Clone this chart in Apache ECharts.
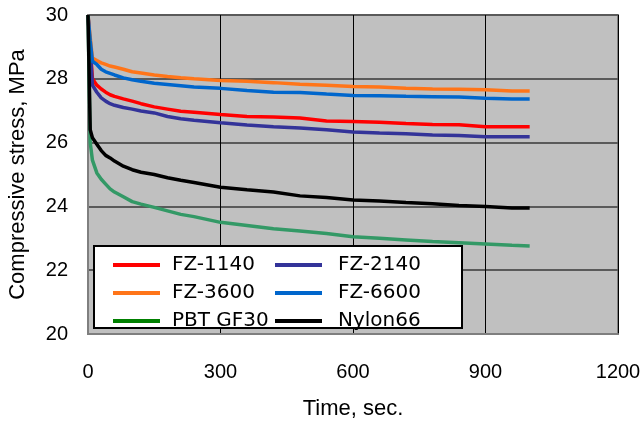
<!DOCTYPE html>
<html><head><meta charset="utf-8">
<script src="https://cdn.jsdelivr.net/npm/echarts@6/dist/echarts.min.js"></script>
<style>html,body{margin:0;padding:0;background:#fff}#c{width:640px;height:421px}</style>
</head><body><div id="c"></div>
<script>
var time = [0, 5, 10, 20, 30, 40, 50, 60, 80, 100, 120, 150, 180, 210, 240, 300, 360, 420, 480, 540, 600, 660, 720, 780, 840, 900, 960, 1000];
var fz1140 = [30, 29.0, 28.0, 27.8, 27.68, 27.58, 27.5, 27.45, 27.37, 27.3, 27.22, 27.12, 27.05, 26.98, 26.95, 26.88, 26.82, 26.8, 26.77, 26.68, 26.66, 26.64, 26.6, 26.57, 26.56, 26.5, 26.5, 26.5];
var fz2140 = [30, 28.9, 27.8, 27.58, 27.4, 27.3, 27.22, 27.17, 27.1, 27.05, 26.99, 26.93, 26.82, 26.75, 26.7, 26.62, 26.55, 26.5, 26.46, 26.4, 26.33, 26.3, 26.28, 26.24, 26.22, 26.18, 26.18, 26.18];
var fz3600 = [30, 29.3, 28.65, 28.57, 28.5, 28.45, 28.4, 28.37, 28.3, 28.22, 28.18, 28.12, 28.07, 28.03, 28.0, 27.95, 27.92, 27.88, 27.83, 27.8, 27.76, 27.74, 27.7, 27.68, 27.67, 27.66, 27.62, 27.62];
var fz6600 = [30, 29.2, 28.55, 28.45, 28.3, 28.22, 28.17, 28.12, 28.03, 27.97, 27.92, 27.86, 27.82, 27.78, 27.74, 27.7, 27.63, 27.58, 27.57, 27.52, 27.48, 27.47, 27.45, 27.44, 27.43, 27.39, 27.37, 27.37];
var pbtgf30 = [30, 26.0, 25.45, 25.05, 24.85, 24.7, 24.55, 24.45, 24.3, 24.15, 24.07, 23.97, 23.86, 23.75, 23.68, 23.5, 23.4, 23.3, 23.23, 23.15, 23.05, 23.0, 22.95, 22.9, 22.86, 22.82, 22.78, 22.76];
var nylon66 = [30, 26.4, 26.15, 25.95, 25.75, 25.6, 25.52, 25.42, 25.26, 25.15, 25.07, 25.0, 24.9, 24.82, 24.75, 24.6, 24.52, 24.45, 24.33, 24.28, 24.2, 24.17, 24.12, 24.08, 24.03, 24.0, 23.95, 23.95];
var xTicks = [0, 300, 600, 900, 1200];
var yTicks = [20, 22, 24, 26, 28, 30];

var seriesDefs = [
  {name: 'FZ-1140', data: fz1140, color: '#ff0000'},
  {name: 'FZ-2140', data: fz2140, color: '#333399'},
  {name: 'FZ-3600', data: fz3600, color: '#ff7519'},
  {name: 'FZ-6600', data: fz6600, color: '#0066cc'},
  {name: 'PBT GF30', data: pbtgf30, color: '#339966'},
  {name: 'Nylon66', data: nylon66, color: '#000000'}
];
function pairs(v){ return time.map(function(t,i){ return [t, v[i]]; }); }

var chart = echarts.init(document.getElementById('c'), null, {renderer: 'canvas'});
function legendCommon(padLeft){
  return {
    orient: 'vertical', icon: 'rect', itemWidth: 47, itemHeight: 4, itemGap: 8, z: 200,
    textStyle: {fontFamily: 'DejaVu Sans', fontSize: 20, color: '#000', lineHeight: 20, padding: [0,0,0,padLeft]},
    selectedMode: false
  };
}
chart.setOption({
  animation: false,
  backgroundColor: '#fff',
  grid: {left: 88, right: 22, top: 15, bottom: 87, outerBoundsMode: 'none', containLabel: false, show: true, backgroundColor: '#c0c0c0', borderColor: '#7f7f7f', borderWidth: 2},
  xAxis: {
    type: 'value', min: xTicks[0], max: xTicks[xTicks.length-1], interval: 300,
    name: 'Time, sec.', nameLocation: 'middle', nameGap: 64,
    nameTextStyle: {fontFamily: 'Liberation Sans', fontSize: 22, color: '#000'},
    axisLine: {show: true, lineStyle: {color: '#7f7f7f', width: 2}},
    axisTick: {show: false},
    axisLabel: {fontFamily: 'Liberation Sans', fontSize: 20, color: '#000', margin: 28, formatter: function(v){ return String(v); }},
    splitLine: {show: true, lineStyle: {color: '#000', width: 1}}
  },
  yAxis: {
    type: 'value', min: yTicks[0], max: yTicks[yTicks.length-1], interval: 2,
    name: 'Compressive stress, MPa', nameLocation: 'middle', nameGap: 59, nameRotate: 90,
    nameTextStyle: {fontFamily: 'Liberation Sans', fontSize: 22, color: '#000'},
    axisLine: {show: true, lineStyle: {color: '#7f7f7f', width: 2}},
    axisTick: {show: false},
    axisLabel: {fontFamily: 'Liberation Sans', fontSize: 20, color: '#000', margin: 20, formatter: function(v){ return String(v); }},
    splitLine: {show: true, lineStyle: {color: '#5a5a5a', width: 2}}
  },
  legend: [
    Object.assign({left: 108, top: 250, data: [
      {name: 'FZ-1140'}, {name: 'FZ-3600'}, {name: 'PBT GF30', itemStyle: {color: '#008000'}}
    ]}, legendCommon(7)),
    Object.assign({left: 270, top: 250, data: [
      {name: 'FZ-2140'}, {name: 'FZ-6600'}, {name: 'Nylon66'}
    ]}, legendCommon(11))
  ],
  graphic: [{
    type: 'rect', z: 150, left: 93, top: 245,
    shape: {width: 368, height: 82},
    style: {fill: '#fff', stroke: '#000', lineWidth: 2}
  }],
  series: seriesDefs.map(function(s){
    return {
      name: s.name, type: 'line', data: pairs(s.data), showSymbol: false, symbol: 'none',
      lineStyle: {color: s.color, width: 3.5}, itemStyle: {color: s.color}, z: 3
    };
  })
});
</script></body></html>
